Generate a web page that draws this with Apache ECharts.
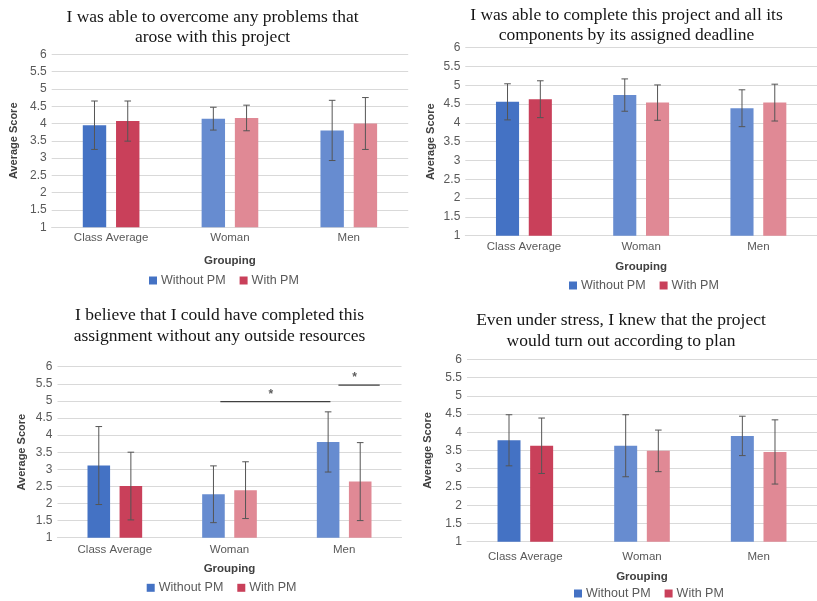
<!DOCTYPE html>
<html>
<head>
<meta charset="utf-8">
<script src="https://cdn.jsdelivr.net/npm/echarts@6/dist/echarts.min.js"></script>
<style>
  html, body { margin: 0; padding: 0; background: #ffffff; }
  #chart { width: 817px; height: 601px; }
</style>
</head>
<body>
<div id="chart"></div>
<script>
// ---- Survey data: mean score and standard deviation per group ----
const categories = ['Class Average', 'Woman', 'Men'];
const seriesNames = ['Without PM', 'With PM'];

const questionTitles = [
  'I was able to overcome any problems that\narose with this project',
  'I was able to complete this project and all its\ncomponents by its assigned deadline',
  'I believe that I could have completed this\nassignment without any outside resources',
  'Even under stress, I knew that the project\nwould turn out according to plan'
];

const q1WithoutPM = [3.95, 4.14, 3.80];
const q1WithoutPMErr = [0.70, 0.33, 0.87];
const q1WithPM = [4.07, 4.16, 4.00];
const q1WithPMErr = [0.58, 0.37, 0.75];

const q2WithoutPM = [4.56, 4.74, 4.39];
const q2WithoutPMErr = [0.48, 0.43, 0.49];
const q2WithPM = [4.63, 4.54, 4.54];
const q2WithPMErr = [0.49, 0.47, 0.49];

const q3WithoutPM = [3.11, 2.27, 3.80];
const q3WithoutPMErr = [1.14, 0.83, 0.88];
const q3WithPM = [2.51, 2.39, 2.64];
const q3WithPMErr = [0.99, 0.83, 1.14];

const q4WithoutPM = [3.78, 3.63, 3.90];
const q4WithoutPMErr = [0.70, 0.85, 0.54];
const q4WithPM = [3.63, 3.49, 3.46];
const q4WithPMErr = [0.76, 0.57, 0.88];

// Significance brackets on question 3 (x in category units, y in score units)
const sigStart = [1.42, 2.45];
const sigEnd = [2.38, 2.81];
const sigLevel = [4.98, 5.46];
const sigMark = ['*', '*'];

const yTickMin = 1, yTickMax = 6, yTickStep = 0.5;

// ---- Styling & layout ----
const questions = [
  { without: q1WithoutPM, withoutErr: q1WithoutPMErr, with: q1WithPM, withErr: q1WithPMErr },
  { without: q2WithoutPM, withoutErr: q2WithoutPMErr, with: q2WithPM, withErr: q2WithPMErr },
  { without: q3WithoutPM, withoutErr: q3WithoutPMErr, with: q3WithPM, withErr: q3WithPMErr },
  { without: q4WithoutPM, withoutErr: q4WithoutPMErr, with: q4WithPM, withErr: q4WithPMErr }
];

const panels = [
  { grid: { left: 51.7, top: 54.3, width: 356.5, height: 173 }, titleX: 212.5, titleTop: 7,
    labelMargin: 5, groupGap: 28, scoreGap: 32, legendLeft: 149, legendTop: 274 },
  { grid: { left: 465.3, top: 47.7, width: 357, height: 188 }, titleX: 626.5, titleTop: 5,
    labelMargin: 5, groupGap: 25, scoreGap: 29, legendLeft: 569, legendTop: 279 },
  { grid: { left: 57.5, top: 366.7, width: 344, height: 171 }, titleX: 219.5, titleTop: 305.5,
    labelMargin: 6, groupGap: 25.5, scoreGap: 30, legendLeft: 146.7, legendTop: 581.3 },
  { grid: { left: 467, top: 359.3, width: 351, height: 182.4 }, titleX: 621, titleTop: 310.5,
    labelMargin: 9.5, groupGap: 29, scoreGap: 34, legendLeft: 574, legendTop: 587 }
];

const DARK_BLUE = '#4472C4', LIGHT_BLUE = '#678CD0';
const DARK_RED = '#C9405A', LIGHT_RED = '#E08995';
const ERR_COLOR = '#555555';
const BAR_WIDTH = 0.197, BAR_GAP = 0.42;
const BAR_OFFSET = BAR_WIDTH * (1 + BAR_GAP) / 2;
const SANS = 'Liberation Sans';

function errorBars(idx, means, errs, side) {
  return {
    type: 'custom',
    xAxisIndex: idx, yAxisIndex: idx, z: 5, silent: true,
    data: means.map((m, i) => [i, m - errs[i], m + errs[i]]),
    renderItem: function (params, api) {
      const band = api.size([1, 0])[0];
      const lo = api.coord([api.value(0), api.value(1)]);
      const hi = api.coord([api.value(0), api.value(2)]);
      const x = lo[0] + side * band * BAR_OFFSET;
      const cap = 3.3;
      const style = { stroke: ERR_COLOR, lineWidth: 1 };
      return {
        type: 'group',
        children: [
          { type: 'line', shape: { x1: x, y1: hi[1], x2: x, y2: lo[1] }, style: style },
          { type: 'line', shape: { x1: x - cap, y1: hi[1], x2: x + cap, y2: hi[1] }, style: style },
          { type: 'line', shape: { x1: x - cap, y1: lo[1], x2: x + cap, y2: lo[1] }, style: style }
        ]
      };
    }
  };
}

const option = {
  animation: false,
  backgroundColor: '#ffffff',
  title: [], grid: [], xAxis: [], yAxis: [], legend: [], series: []
};

panels.forEach((p, idx) => {
  const q = questions[idx];
  option.title.push({
    text: questionTitles[idx], left: p.titleX, top: p.titleTop, textAlign: 'center', padding: 0,
    textStyle: { fontFamily: 'Liberation Serif', fontSize: 17.5, fontWeight: 'normal',
                 color: '#151515', lineHeight: 20.5 }
  });
  option.grid.push(Object.assign({ containLabel: false }, p.grid));
  option.xAxis.push({
    type: 'category', gridIndex: idx, data: categories,
    axisTick: { show: false },
    axisLine: { lineStyle: { color: '#D9D9D9', width: 1 } },
    axisLabel: { color: '#595959', fontFamily: SANS, fontSize: 11.5, margin: p.labelMargin },
    name: 'Grouping', nameLocation: 'middle', nameGap: p.groupGap,
    nameTextStyle: { color: '#404040', fontFamily: SANS, fontSize: 11.5, fontWeight: 'bold' }
  });
  option.yAxis.push({
    type: 'value', gridIndex: idx, min: yTickMin, max: yTickMax, interval: yTickStep,
    axisLine: { show: false }, axisTick: { show: false },
    splitLine: { lineStyle: { color: '#D9D9D9', width: 1 } },
    axisLabel: { color: '#595959', fontFamily: SANS, fontSize: 12, margin: 5 },
    name: 'Average Score', nameLocation: 'middle', nameRotate: 90, nameGap: p.scoreGap,
    nameTextStyle: { color: '#404040', fontFamily: SANS, fontSize: 11, fontWeight: 'bold' }
  });
  option.legend.push({
    left: p.legendLeft, top: p.legendTop, padding: 0, itemGap: 14,
    itemWidth: 8, itemHeight: 8, icon: 'rect',
    data: seriesNames,
    textStyle: { color: '#595959', fontFamily: SANS, fontSize: 12.5, padding: [0, 0, 0, -1] }
  });
  option.series.push({
    name: seriesNames[0], type: 'bar', xAxisIndex: idx, yAxisIndex: idx,
    barWidth: (BAR_WIDTH * 100) + '%', barGap: (BAR_GAP * 100) + '%',
    itemStyle: { color: DARK_BLUE },
    data: q.without.map((v, i) => ({ value: v, itemStyle: { color: i === 0 ? DARK_BLUE : LIGHT_BLUE } }))
  });
  option.series.push({
    name: seriesNames[1], type: 'bar', xAxisIndex: idx, yAxisIndex: idx,
    barWidth: (BAR_WIDTH * 100) + '%', barGap: (BAR_GAP * 100) + '%',
    itemStyle: { color: DARK_RED },
    data: q.with.map((v, i) => ({ value: v, itemStyle: { color: i === 0 ? DARK_RED : LIGHT_RED } }))
  });
  option.series.push(errorBars(idx, q.without, q.withoutErr, -1));
  option.series.push(errorBars(idx, q.with, q.withErr, 1));
});

// Hidden continuous x axis over the third panel, used for the significance brackets
option.xAxis.push({ type: 'value', gridIndex: 2, min: 0, max: categories.length, show: false });
const sigAxis = option.xAxis.length - 1;
sigStart.forEach((s, i) => {
  option.series.push({
    type: 'line', xAxisIndex: sigAxis, yAxisIndex: 2, silent: true, symbol: 'none',
    lineStyle: { color: '#404040', width: 1.3 },
    data: [[s, sigLevel[i]], [sigEnd[i], sigLevel[i]]]
  });
  option.series.push({
    type: 'scatter', xAxisIndex: sigAxis, yAxisIndex: 2, silent: true, symbolSize: 0,
    data: [[(s + sigEnd[i]) / 2 - 0.04, sigLevel[i]]],
    label: { show: true, position: 'top', distance: 1, formatter: sigMark[i],
             color: '#333', fontFamily: SANS, fontSize: 12, fontWeight: 'bold' }
  });
});

const chart = echarts.init(document.getElementById('chart'), null, { renderer: 'canvas' });
chart.setOption(option);
</script>
</body>
</html>
